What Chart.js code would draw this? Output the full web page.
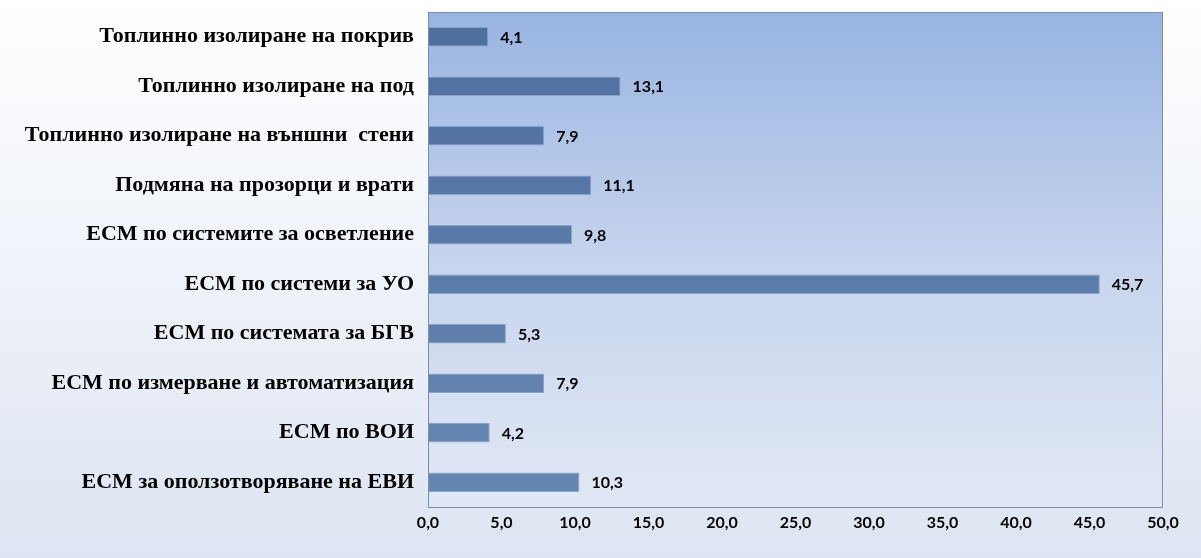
<!DOCTYPE html>
<html>
<head>
<meta charset="utf-8">
<script src="https://cdn.jsdelivr.net/npm/chart.js@4"></script>
<style>
  html, body { margin: 0; padding: 0; background: #fff; }
  #wrap { width: 1201px; height: 558px; }
</style>
</head>
<body>
<div id="wrap"><canvas id="measuresChart" width="1201" height="558"></canvas></div>
<script>
const categories = [
    'Топлинно изолиране на покрив',
    'Топлинно изолиране на под',
    'Топлинно изолиране на външни  стени',
    'Подмяна на прозорци и врати',
    'ЕСМ по системите за осветление',
    'ЕСМ по системи за УО',
    'ЕСМ по системата за БГВ',
    'ЕСМ по измерване и автоматизация',
    'ЕСМ по ВОИ',
    'ЕСМ за оползотворяване на ЕВИ'
];
const shares = [4.1, 13.1, 7.9, 11.1, 9.8, 45.7, 5.3, 7.9, 4.2, 10.3];
const xMin = 0;
const xMax = 50;
const xStep = 5;

const fmt = v => v.toFixed(1).replace('.', ',');

// backgrounds: page and plot area gradients
const backgrounds = {
    id: 'backgrounds',
    beforeDraw(chart) {
        const { ctx, width, height, chartArea: a } = chart;
        ctx.save();
        let g = ctx.createLinearGradient(0, 0, 0, height);
        g.addColorStop(0, '#ffffff');
        g.addColorStop(1, '#dde5f2');
        ctx.fillStyle = g;
        ctx.fillRect(0, 0, width, height);
        g = ctx.createLinearGradient(0, a.top, 0, a.bottom);
        g.addColorStop(0, '#98b4e2');
        g.addColorStop(0.5, '#c6d4ed');
        g.addColorStop(1, '#e1e8f5');
        ctx.fillStyle = g;
        ctx.fillRect(a.left, a.top, a.right - a.left, a.bottom - a.top);
        ctx.restore();
    },
    afterDatasetsDraw(chart) {
        const { ctx, chartArea: a } = chart;
        ctx.save();
        ctx.strokeStyle = '#7d8ea8';
        ctx.lineWidth = 1;
        ctx.strokeRect(a.left + 0.5, a.top + 0.5, a.right - a.left - 1, a.bottom - a.top);
        ctx.restore();
    }
};

// value labels at the end of each bar
const valueLabels = {
    id: 'valueLabels',
    afterDatasetsDraw(chart) {
        const { ctx } = chart;
        const meta = chart.getDatasetMeta(0);
        ctx.save();
        ctx.font = 'bold 16px Lato';
        ctx.fillStyle = '#000';
        ctx.textBaseline = 'middle';
        ctx.textAlign = 'left';
        meta.data.forEach((bar, i) => {
            ctx.fillText(fmt(shares[i]), bar.x + 12, bar.y + 1);
        });
        ctx.restore();
    }
};

const ctx = document.getElementById('measuresChart').getContext('2d');
const barFill = ctx.createLinearGradient(0, 12, 0, 507);
barFill.addColorStop(0, '#4e6e9f');
barFill.addColorStop(1, '#6787b3');

new Chart(ctx, {
    type: 'bar',
    data: {
        labels: categories,
        datasets: [{
            data: shares,
            backgroundColor: barFill,
            borderColor: '#8aa3c8',
            borderWidth: 1,
            borderSkipped: 'left',
            categoryPercentage: 1.0,
            barPercentage: 0.39
        }]
    },
    options: {
        indexAxis: 'y',
        responsive: false,
        animation: false,
        layout: { padding: { top: 12, right: 38, bottom: 0, left: 0 } },
        plugins: {
            legend: { display: false },
            tooltip: { enabled: false }
        },
        scales: {
            x: {
                min: xMin,
                max: xMax,
                grid: { display: false, drawTicks: false },
                border: { display: false },
                ticks: {
                    stepSize: xStep,
                    padding: 6,
                    color: '#000',
                    font: { family: 'Lato', weight: 'bold', size: 16 },
                    callback: v => fmt(v)
                },
                afterFit(scale) { scale.height = 51; scale.paddingLeft = 0; scale.paddingRight = 0; }
            },
            y: {
                grid: { display: false, drawTicks: false },
                border: { display: true, color: '#8e97a6' },
                ticks: {
                    padding: 14,
                    color: '#000',
                    font: { family: 'Liberation Serif', weight: 'bold', size: 22 }
                },
                afterFit(scale) { scale.width = 428; scale.paddingTop = 0; scale.paddingBottom = 0; }
            }
        }
    },
    plugins: [backgrounds, valueLabels]
});
</script>
</body>
</html>
